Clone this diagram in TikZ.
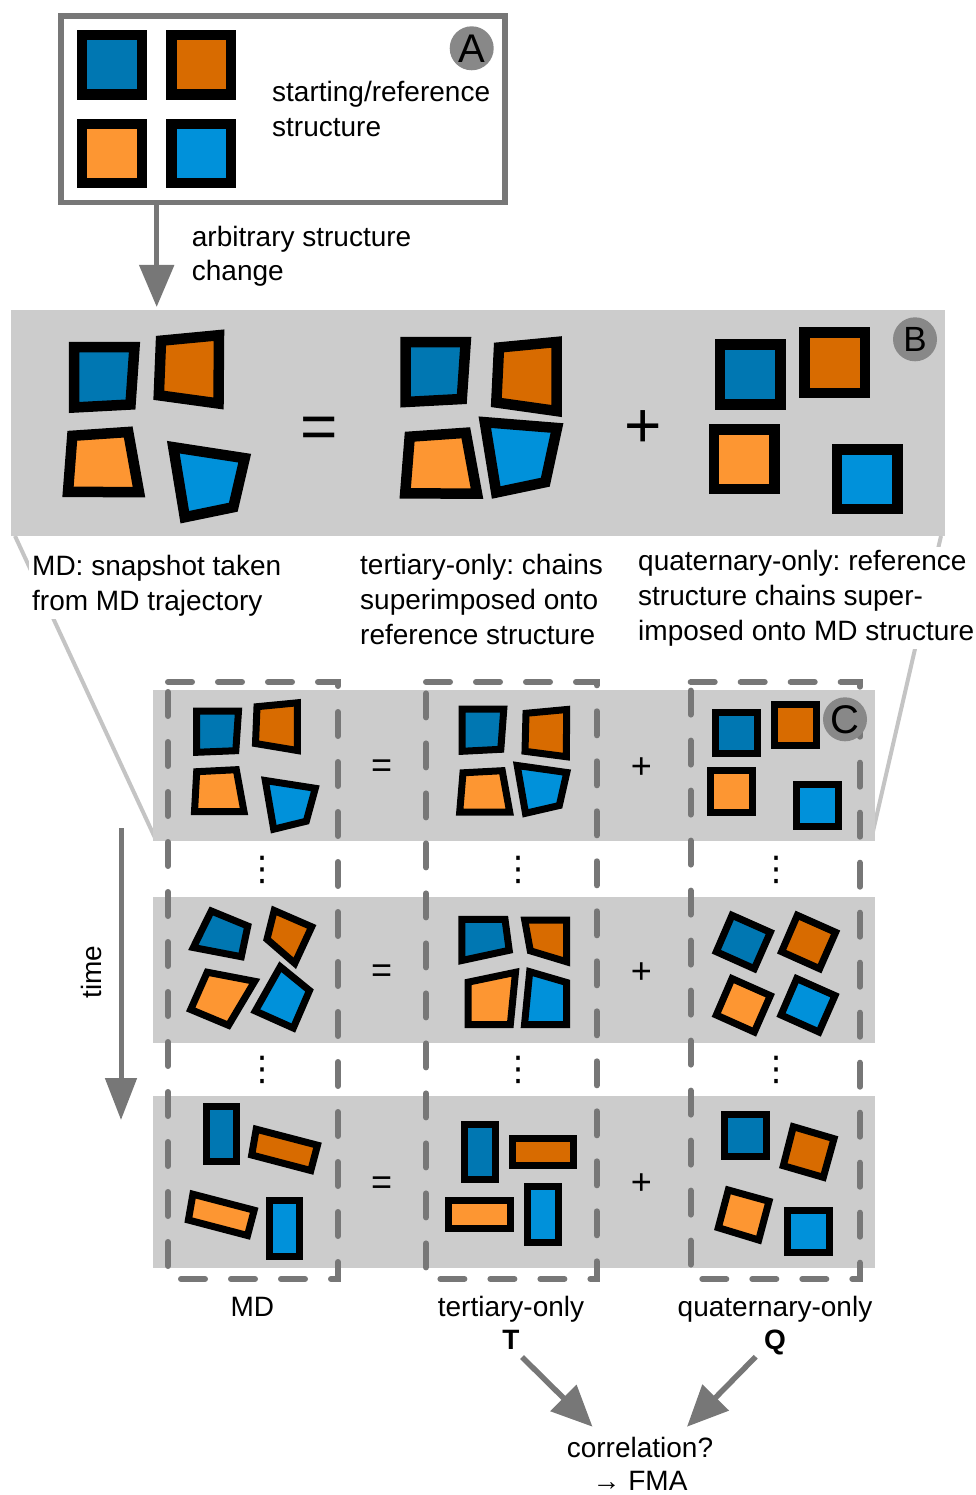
\documentclass[tikz,border=0pt]{standalone}
\usepackage{fontspec}
\setmainfont{Liberation Sans}
\newfontfamily\dejavu{DejaVu Sans}
\usetikzlibrary{arrows.meta}
\frenchspacing
\definecolor{dblue}{HTML}{0077B2}
\definecolor{dorange}{HTML}{D86B00}
\definecolor{lorange}{HTML}{FD9632}
\definecolor{lblue}{HTML}{0091DA}
\definecolor{panel}{HTML}{CCCCCC}
\definecolor{frame}{HTML}{777777}
\definecolor{badge}{HTML}{888888}
\definecolor{callout}{HTML}{C4C4C4}
\newcommand\quadpoly[6]{\path[#1,fill=#2] (#3) -- (#4) -- (#5) -- (#6) -- cycle;}
\tikzset{
  shapeB/.style={draw=black,line width=10.5pt,line join=miter},
  shapeC/.style={draw=black,line width=7pt,line join=miter},
  txt/.style={font=\fontsize{28}{35}\selectfont, inner sep=0pt},
  desc/.style={font=\fontsize{28}{35}\selectfont, align=left, anchor=north west, inner sep=3pt, fill=white},
  bigsign/.style={font=\fontsize{64}{64}\selectfont, inner sep=0pt},
  smallsign/.style={font=\fontsize{36}{36}\selectfont, inner sep=0pt},
  vdotsnode/.style={font=\dejavu\fontsize{34}{34}\selectfont, inner sep=0pt},
  bigarrow/.style={draw=frame, line width=5.3pt, -{Triangle[length=42pt,width=34pt]}},
  timearrow/.style={draw=frame, line width=5pt, -{Triangle[length=42pt,width=31pt]}},
  resarrow/.style={draw=frame, line width=5.5pt, -{Triangle[length=41pt,width=36pt]}},
  dashbox/.style={draw=frame, line width=6pt, dash pattern=on 24pt off 26pt, line cap=round},
  badgestyle/.style={circle, fill=badge, minimum size=44pt, inner sep=0pt},
  calloutline/.style={draw=callout, line width=4pt}
}
\begin{document}
\begin{tikzpicture}[x=1pt,y=-1pt]
\useasboundingbox (0,0) rectangle (976,1495);

% ---------- A ----------
\node[draw=frame, line width=5.5pt, minimum width=444pt, minimum height=186.5pt, inner sep=0pt] (boxA) at (283,109.25) {};
\path[shapeB,fill=dblue] (82,35) rectangle (141.8,94.5);
\path[shapeB,fill=dorange] (171.5,35) rectangle (231,94.5);
\path[shapeB,fill=lorange] (82,124.2) rectangle (141.8,183.2);
\path[shapeB,fill=lblue] (171.5,124.2) rectangle (231,183.2);
\node[badgestyle, font=\fontsize{40}{40}\selectfont] (badgeA) at (471.7,48.3) {A};
\node[txt, anchor=base west] (startA1) at (272,101.5) {starting/reference};
\node[txt, anchor=base west] (startA2) at (272,136.5) {structure};

\coordinate (arrAs) at (156.7,205);
\coordinate (arrAe) at (156.7,307);
\draw[bigarrow] (arrAs) -- (arrAe);
\node[txt, anchor=base west] (chg1) at (191.7,246.5) {arbitrary structure};
\node[txt, anchor=base west] (chg2) at (191.7,280.5) {change};

% ---------- callout lines ----------
\coordinate (cl1) at (15,536);
\coordinate (cl2) at (156,840);
\coordinate (cr1) at (941,536);
\coordinate (cr2) at (871,840);
\draw[calloutline] (cl1) -- (cl2);
\draw[calloutline] (cr1) -- (cr2);

% ---------- B ----------
\fill[panel] (11,310) rectangle (945,536);
\quadpoly{shapeB}{dblue}{74,347}{134.5,347}{130.5,404.5}{74,407.5}
\quadpoly{shapeB}{dorange}{161,340.7}{219,335.2}{218.5,403.5}{158.8,395.3}
\quadpoly{shapeB}{lorange}{72.3,435.8}{128.2,432}{139,492.2}{68,491.8}
\quadpoly{shapeB}{lblue}{173.3,447.2}{244.7,458.2}{233.3,507.2}{184.8,517.2}
\node[bigsign] (eqB) at (319,432.5) {=};
\quadpoly{shapeB}{dblue}{405.5,342}{465.7,342}{461.8,399}{405.5,402}
\quadpoly{shapeB}{dorange}{499,347.5}{556.5,342}{556.5,411}{496.3,402.5}
\quadpoly{shapeB}{lorange}{409.7,436.7}{465.8,432.8}{477,493.7}{405.2,493.3}
\quadpoly{shapeB}{lblue}{484.8,422.2}{557,428}{545.3,482.2}{496.2,492.5}
\node[bigsign] (plB) at (643,429.5) {+};
\path[shapeB,fill=dblue] (719.8,344.7) rectangle (780.5,404.7);
\path[shapeB,fill=dorange] (804.7,332.5) rectangle (865.2,393);
\path[shapeB,fill=lorange] (714,429.3) rectangle (774.3,489);
\path[shapeB,fill=lblue] (837,449.3) rectangle (897.3,509);
\node[badgestyle, font=\fontsize{35}{35}\selectfont] (badgeB) at (915,339.3) {B};

\node[desc] (descMD) at (29,551.6) {MD: snapshot taken\\from MD trajectory};
\node[desc] (descT) at (357,550.6) {tertiary-only: chains\\superimposed onto\\reference structure};
\node[desc] (descQ) at (635,546.6) {quaternary-only: reference\\structure chains super-\\imposed onto MD structure};

% ---------- C rows ----------
\fill[panel] (153,690) rectangle (875,840.5);
\fill[panel] (153,897.3) rectangle (875,1042.7);
\fill[panel] (153,1096) rectangle (875,1268.3);

\draw[dashbox] (168,682) -- (338,682) -- (338,1279) -- (168,1279) -- cycle;
\draw[dashbox] (426,682) -- (596.7,682) -- (596.7,1279) -- (426,1279) -- cycle;
\draw[dashbox] (690.7,682) -- (860,682) -- (860,1279) -- (690.7,1279) -- cycle;

% row 1
\quadpoly{shapeC}{dblue}{196.7,711}{238.5,711}{235.8,750.7}{196.7,752.3}
\quadpoly{shapeC}{dorange}{257,706.7}{297.3,702.8}{297.3,750.5}{255.5,743.5}
\quadpoly{shapeC}{lorange}{196.7,771.7}{236.3,769.7}{244,811.7}{194.5,811.7}
\quadpoly{shapeC}{lblue}{265.3,780.5}{315.3,788.3}{306.3,821.2}{273.7,829.2}
\node[smallsign] (eq1) at (381.7,769) {=};
\quadpoly{shapeC}{dblue}{462,709}{503.8,709}{500.8,749.3}{462,751.3}
\quadpoly{shapeC}{dorange}{526,713.3}{566.7,709.5}{566.3,756.7}{525,751.3}
\quadpoly{shapeC}{lorange}{463,772.8}{502.2,770.7}{509.7,812}{459.7,812}
\quadpoly{shapeC}{lblue}{517.2,765.5}{566.8,772.5}{559.3,805.5}{525.5,813.3}
\node[smallsign] (pl1) at (641.3,768) {+};
\path[shapeC,fill=dblue] (715.5,712.5) rectangle (757.8,753.5);
\path[shapeC,fill=dorange] (774.2,704.2) rectangle (816.2,745.5);
\path[shapeC,fill=lorange] (710.2,770.2) rectangle (752.2,812.2);
\path[shapeC,fill=lblue] (796.8,784.5) rectangle (838.8,826.5);
\node[badgestyle, font=\fontsize{40}{40}\selectfont] (badgeC) at (845,719.3) {C};

% dots 1
\node[vdotsnode] (d11) at (262,869.5) {⋮};
\node[vdotsnode] (d12) at (518.5,869.5) {⋮};
\node[vdotsnode] (d13) at (776,869.5) {⋮};

% row 2
\quadpoly{shapeC}{dblue}{211.3,911}{247.8,926}{241.3,956.7}{193.3,947.5}
\quadpoly{shapeC}{dorange}{274.2,910.5}{311.7,926.8}{294.8,963.3}{267,939.2}
\quadpoly{shapeC}{lorange}{207.2,972.2}{254.7,981.3}{228.5,1025.3}{190.7,1009.5}
\quadpoly{shapeC}{lblue}{280.3,966.7}{309.5,990.5}{293.3,1028}{255.3,1011}
\node[smallsign] (eq2) at (381.7,973.7) {=};
\quadpoly{shapeC}{dblue}{461.8,919.3}{505,919.3}{509.2,950.3}{461.8,960.5}
\quadpoly{shapeC}{dorange}{524.7,920}{566.7,920}{566.7,961.8}{530.3,950.8}
\quadpoly{shapeC}{lorange}{468,982.2}{515.5,972.3}{510.3,1024.7}{468,1024.7}
\quadpoly{shapeC}{lblue}{529.7,971.7}{566.7,982.5}{566.7,1024.7}{524.5,1024.7}
\node[smallsign] (pl2) at (641.5,972.8) {+};
\quadpoly{shapeC}{dblue}{732,915.3}{770.3,932.3}{754.3,968.7}{716.3,951.7}
\quadpoly{shapeC}{dorange}{797.3,915.3}{835.6,932.3}{819.6,968.7}{781.6,951.7}
\quadpoly{shapeC}{lorange}{732,978.6}{770.3,995.6}{754.3,1032}{716.3,1015}
\quadpoly{shapeC}{lblue}{796.7,978.6}{835,995.6}{819,1032}{781,1015}

% dots 2
\node[vdotsnode] (d21) at (262,1070) {⋮};
\node[vdotsnode] (d22) at (518.5,1070) {⋮};
\node[vdotsnode] (d23) at (776,1070) {⋮};

% row 3
\path[shapeC,fill=dblue] (206.2,1106.2) rectangle (236.5,1161.5);
\quadpoly{shapeC}{dorange}{256.2,1129.2}{317.5,1145.2}{310.8,1170.5}{251.7,1155}
\quadpoly{shapeC}{lorange}{192.9,1194.2}{254.2,1210.2}{247.5,1235.5}{188.4,1220}
\path[shapeC,fill=lblue] (269.2,1200.8) rectangle (299.5,1256.8);
\node[smallsign] (eq3) at (381.7,1186) {=};
\path[shapeC,fill=dblue] (464.8,1124.2) rectangle (495.2,1179.2);
\path[shapeC,fill=dorange] (512.2,1138.2) rectangle (573.8,1165.5);
\path[shapeC,fill=lorange] (448.8,1200.8) rectangle (510.8,1228.2);
\path[shapeC,fill=lblue] (527.8,1186.8) rectangle (558.5,1242.5);
\node[smallsign] (pl3) at (641.3,1184.5) {+};
\path[shapeC,fill=dblue] (724.5,1114.5) rectangle (766.5,1156.5);
\quadpoly{shapeC}{dorange}{793.3,1126.7}{834,1138.7}{823.3,1177.3}{783.3,1165.7}
\quadpoly{shapeC}{lorange}{728.3,1190}{769,1201.3}{758.7,1240}{718.3,1227.7}
\path[shapeC,fill=lblue] (787.5,1210.2) rectangle (829.8,1252.2);

% time arrow
\coordinate (timeS) at (121,828);
\coordinate (timeE) at (121,1120);
\draw[timearrow] (timeS) -- (timeE);
\node[txt, rotate=90] (timeLab) at (91.5,972) {time};

% bottom labels
\node[txt, anchor=base] (labMD) at (252.4,1316) {MD};
\node[txt, anchor=base] (labT) at (511,1316) {tertiary-only};
\node[txt, anchor=base] (labQ) at (775,1316) {quaternary-only};
\node[txt, anchor=base, font=\fontsize{28}{35}\selectfont\bfseries] (symT) at (511,1349) {T};
\node[txt, anchor=base, font=\fontsize{28}{35}\selectfont\bfseries] (symQ) at (775,1349) {Q};

\coordinate (tS) at (522,1357);
\coordinate (tE) at (592.5,1426.7);
\coordinate (qS) at (755.7,1356.7);
\coordinate (qE) at (687,1426.7);
\draw[resarrow] (tS) -- (tE);
\draw[resarrow] (qS) -- (qE);

\node[txt, anchor=base] (corr) at (640,1457) {correlation?};
\node[txt, anchor=base] (fma) at (640,1490) {→ FMA};
\end{tikzpicture}
\end{document}
